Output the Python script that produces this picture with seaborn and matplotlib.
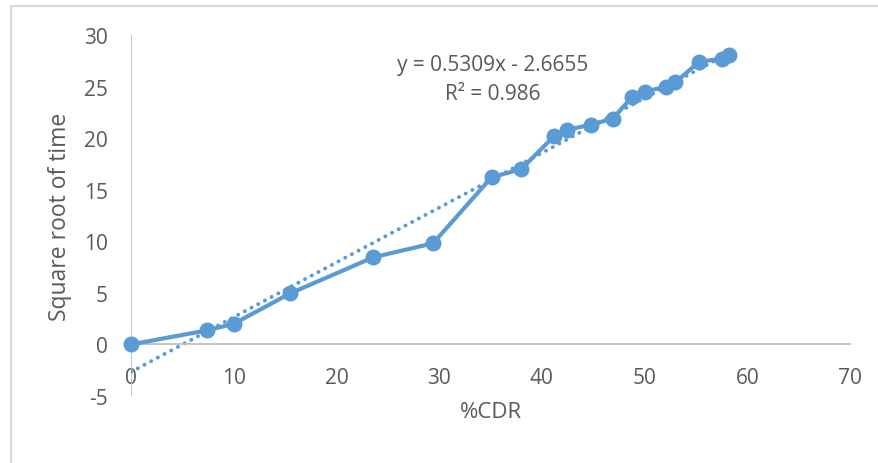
import matplotlib
matplotlib.use("Agg")
import matplotlib.pyplot as plt
import seaborn as sns
import numpy as np
import pandas as pd
from matplotlib.patches import Rectangle

# Percent CDR vs square root of time
cdr = [0.0, 7.4, 10.0, 15.5, 23.6, 29.4, 35.1, 38.0, 41.2, 42.4, 44.8,
       46.9, 48.8, 50.0, 52.1, 53.0, 55.3, 57.5, 58.2]
sqrt_time = [0.0, 1.36, 2.0, 4.95, 8.45, 9.8, 16.2, 17.0, 20.2, 20.8, 21.3,
             21.9, 24.0, 24.5, 25.0, 25.4, 27.4, 27.7, 28.1]

# Linear trendline coefficients
slope = 0.5309
intercept = -2.6655
r_squared = 0.986

x_ticks = [0, 10, 20, 30, 40, 50, 60, 70]
y_ticks = [-5, 0, 5, 10, 15, 20, 25, 30]

blue = "#5B9BD5"
text_color = "#595959"
axis_color = "#BFBFBF"

sns.set_theme(style="white")
plt.rcParams["font.family"] = ["Open Sans", "DejaVu Sans"]

df = pd.DataFrame({"cdr": cdr, "sqrt_time": sqrt_time})
trend_x = [min(cdr), max(cdr)]
trend = pd.DataFrame({"cdr": trend_x,
                      "fit": [slope * v + intercept for v in trend_x]})

fig = plt.figure(figsize=(8.79, 4.64), dpi=100)
ax = fig.add_axes([131 / 879, 1 - 397 / 464, 719 / 879, 361 / 464])

# chart-area frame
fig.patches.append(Rectangle((11 / 879, -0.2), 1.2, 0.2 + 1 - 7 / 464,
                             transform=fig.transFigure, fill=False,
                             edgecolor="#D9D9D9", lw=1.5, zorder=0))

sns.lineplot(data=trend, x="cdr", y="fit", ax=ax, color=blue,
             linewidth=2.8, linestyle=(0, (0.05, 1.9)),
             dash_capstyle="round", solid_capstyle="round", zorder=2)
sns.lineplot(data=df, x="cdr", y="sqrt_time", ax=ax, sort=False,
             color=blue, linewidth=3.0, marker="o", markersize=11.5,
             markeredgewidth=0, zorder=3, clip_on=False)

ax.set_xlim(0, 70)
ax.set_ylim(-5, 30)
ax.set_xticks(x_ticks)
ax.set_yticks(y_ticks)
ax.set_xticklabels([str(v) for v in x_ticks])
ax.set_yticklabels([str(v) for v in y_ticks])

for s in ["top", "right", "left"]:
    ax.spines[s].set_visible(False)
ax.spines["bottom"].set_position(("data", 0))
ax.spines["bottom"].set_color(axis_color)
ax.spines["bottom"].set_linewidth(1.3)
ax.axvline(0, color=axis_color, lw=1.3, zorder=1)

ax.tick_params(axis="both", length=0, labelsize=15, labelcolor=text_color)
ax.tick_params(axis="x", pad=16.5)
ax.tick_params(axis="y", pad=16.5)

ax.set_xlabel("%CDR", fontsize=16, color=text_color, va="center")
ax.xaxis.set_label_coords(0.5, -0.044)
ax.set_ylabel("Square root of time", fontsize=16.5, color=text_color)
ax.yaxis.set_label_coords(-0.082, 0.5)

ax.text(35.25, 27.1, f"y = {slope}x - {abs(intercept)}", ha="center",
        va="center", fontsize=15, color=text_color)
ax.text(35.25, 24.3, f"R² = {r_squared}", ha="center", va="center",
        fontsize=15, color=text_color)

fig.savefig("out.png", dpi=100)
